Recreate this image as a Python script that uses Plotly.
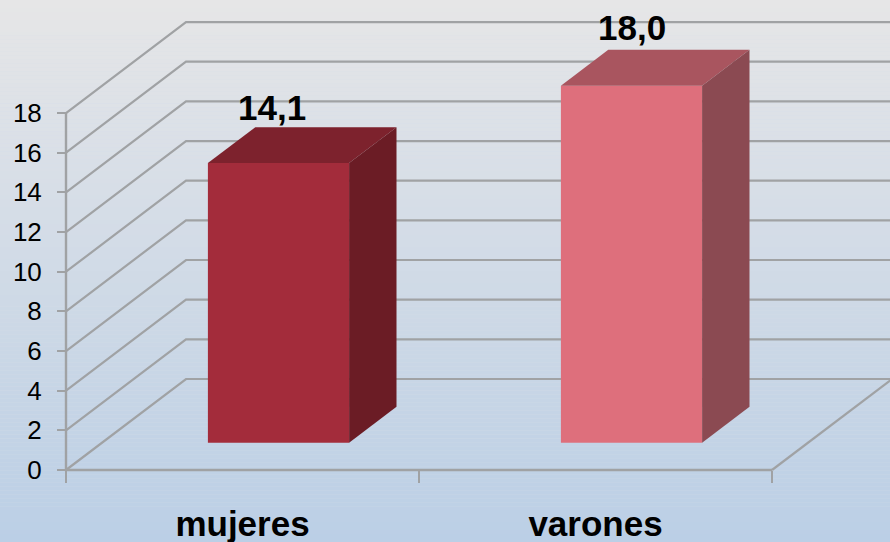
import plotly.graph_objects as go

# ---- data ----
categories = ["mujeres", "varones"]
values = [14.1, 18.0]
value_labels = ["14,1", "18,0"]
y_ticks = [0, 2, 4, 6, 8, 10, 12, 14, 16, 18]

# ---- styles ----
front_colors = ["#a32c3b", "#de6f7c"]
top_colors = ["#7d222d", "#a9555f"]
side_colors = ["#6b1c25", "#8b4a52"]
grid_color = "#a0a2a4"
label_dx = [-7, 0]
label_dy = [56, 58]

W, H = 890, 542
ML, MB = 66, 72
PX_CAT, PX_UNIT = 353.0, 19.83
DX, DY = 120 / PX_CAT, 91 / PX_UNIT      # depth vector of the oblique view, data units
BAR_L, BAR_R = 0.3, 0.7                  # bar extent inside its category slot
D0, D1 = 0.3, 0.695                      # bar extent along the depth


def proj(x, y, d):
    return x + d * DX, y + d * DY


fig = go.Figure()

# gradient background
N = 136
c0, c1 = (230, 230, 231), (187, 207, 230)
shapes = []
for i in range(N):
    t = i / (N - 1)
    col = "rgb(%d,%d,%d)" % tuple(round(a + (b - a) * t) for a, b in zip(c0, c1))
    shapes.append(dict(type="rect", xref="paper", yref="paper", layer="below",
                       x0=0, x1=1, y0=1 - (i + 1) / N, y1=1 - i / N,
                       line=dict(width=0), fillcolor=col))

# gridlines on side wall and back wall
n_cat = len(categories)
line_style = dict(color=grid_color, width=2.2)
for v in y_ticks:
    x1, y1 = proj(0, v, 1)
    x2, y2 = proj(n_cat, v, 1)
    shapes.append(dict(type="path", layer="below", xref="x", yref="y",
                       path=f"M 0 {v} L {x1} {y1} L {x2} {y2}", line=line_style))
# floor right edge
x1, y1 = proj(n_cat, 0, 1)
shapes.append(dict(type="line", layer="below", xref="x", yref="y",
                   x0=n_cat, y0=0, x1=x1, y1=y1, line=line_style))

# front faces
fx = [proj(i + 0.5, 0, D0)[0] for i in range(n_cat)]
base = proj(0, 0, D0)[1]
fig.add_trace(go.Bar(x=fx, y=values, base=[base] * n_cat, width=BAR_R - BAR_L,
                     marker=dict(color=front_colors, line=dict(width=0)),
                     hoverinfo="skip", showlegend=False))

# the two axis lines
fig.add_trace(go.Scatter(x=[0, 0, n_cat], y=[y_ticks[-1], 0, 0], mode="lines",
                         line=dict(color=grid_color, width=2.4),
                         hoverinfo="skip", showlegend=False))

# top and side faces
for i, v in enumerate(values):
    xl, xr = i + BAR_L, i + BAR_R
    a = proj(xl, v, D0); b = proj(xr, v, D0); c = proj(xr, v, D1); d = proj(xl, v, D1)
    fig.add_trace(go.Scatter(x=[a[0], b[0], c[0], d[0], a[0]], y=[a[1], b[1], c[1], d[1], a[1]],
                             mode="lines", fill="toself", fillcolor=top_colors[i],
                             line=dict(width=0), hoverinfo="skip", showlegend=False))
    e = proj(xr, 0, D0); f = proj(xr, 0, D1)
    fig.add_trace(go.Scatter(x=[b[0], c[0], f[0], e[0], b[0]], y=[b[1], c[1], f[1], e[1], b[1]],
                             mode="lines", fill="toself", fillcolor=side_colors[i],
                             line=dict(width=0), hoverinfo="skip", showlegend=False))

annotations = []
for i, v in enumerate(values):
    annotations.append(dict(x=fx[i], y=base + v, xref="x", yref="y", text=value_labels[i],
                            showarrow=False, xshift=label_dx[i], yshift=label_dy[i],
                            font=dict(family="Liberation Sans", size=35, color="black",
                                      weight="bold")))

fig.update_layout(
    width=W, height=H, autosize=False,
    margin=dict(l=0, r=0, t=0, b=0, pad=0),
    paper_bgcolor="#d5dde8", plot_bgcolor="rgba(0,0,0,0)",
    showlegend=False, shapes=shapes, annotations=annotations,
    xaxis=dict(type="linear", range=[-ML / PX_CAT, (W - ML) / PX_CAT], domain=[0, 1],
               anchor="free", position=MB / H,
               showgrid=False, zeroline=False, showline=False, automargin=False,
               tickmode="array", tickvals=[i + 0.5 for i in range(n_cat)], ticktext=categories,
               ticks="outside", ticklen=0, tickcolor=grid_color, ticklabelstandoff=23,
               tickfont=dict(family="Liberation Sans", size=35, color="black", weight="bold"),
               minor=dict(tickmode="array", tickvals=list(range(n_cat + 1)), ticks="outside",
                          ticklen=12, tickwidth=2.2, tickcolor=grid_color)),
    yaxis=dict(range=[-MB / PX_UNIT, (H - MB) / PX_UNIT], domain=[0, 1],
               anchor="free", position=ML / W,
               showgrid=False, zeroline=False, showline=False,
               automargin=False, tickmode="array", tickvals=y_ticks,
               ticktext=[str(t) for t in y_ticks],
               ticks="outside", ticklen=9, tickwidth=2.2, tickcolor=grid_color,
               ticklabelstandoff=10,
               tickfont=dict(family="Liberation Sans", size=26, color="black")),
)

fig.write_html("out.html", config=dict(displayModeBar=False),
               post_script="document.body.style.margin='0';document.body.style.overflow='hidden';")
